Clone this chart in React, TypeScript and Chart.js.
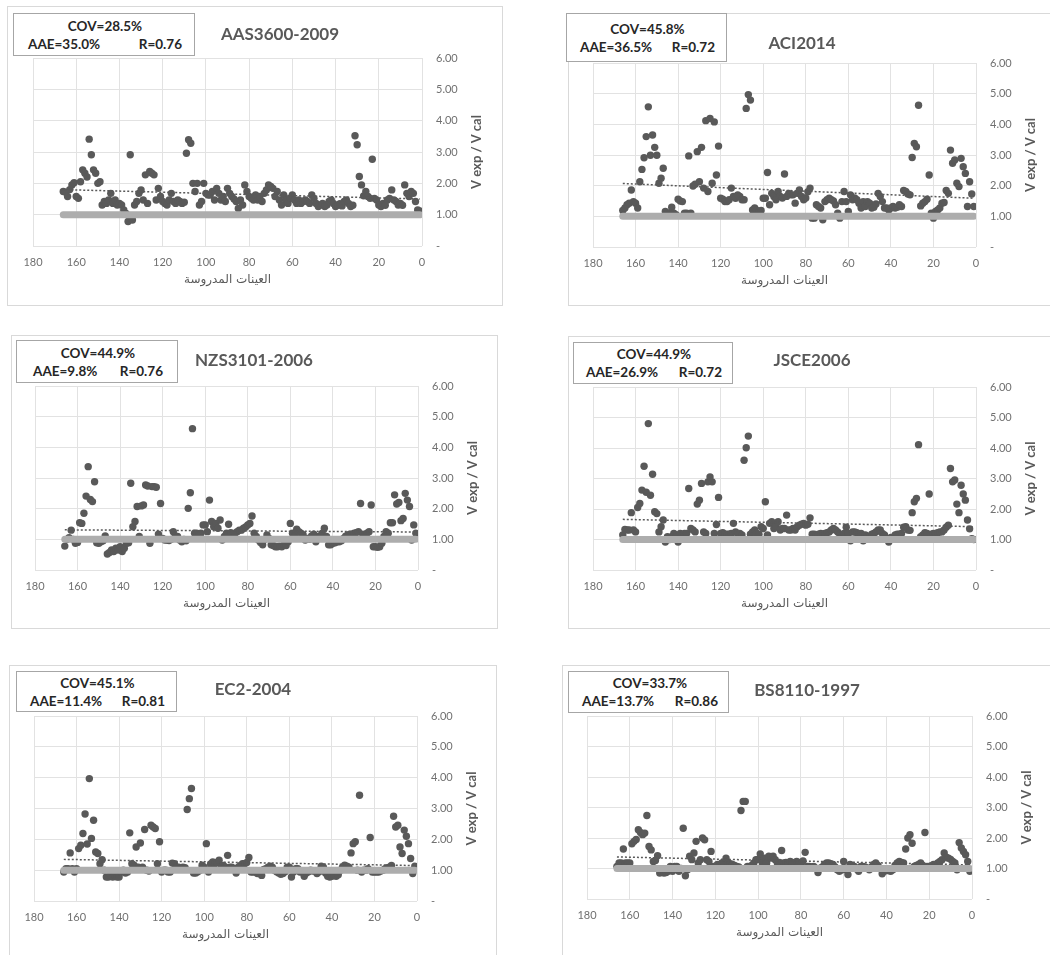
import React, { useEffect, useRef } from "react";
import { Chart, registerables } from "chart.js";

Chart.register(...registerables);
Chart.defaults.font.family = 'Lato, "DejaVu Sans", sans-serif';

// Values read from left (sample 166) to right (sample 1)
const aasValues = [
  1.74, 1.72, 1.58, 1.80, 1.95, 2.02, 1.58, 1.52, 2.05, 2.43,
  2.32, 2.20, 3.41, 2.91, 2.43, 2.32, 2.00, 2.05, 1.31, 1.42,
  1.36, 1.47, 1.68, 1.36, 1.47, 1.31, 1.36, 1.31, 1.15, 1.04,
  0.78, 2.91, 0.83, 1.31, 1.42, 1.68, 1.79, 1.47, 2.27, 1.36,
  2.38, 2.32, 2.27, 1.47, 1.84, 1.58, 1.42, 1.36, 1.31, 1.47,
  1.68, 1.42, 1.36, 1.47, 1.42, 1.36, 1.40, 2.96, 3.39, 3.28,
  2.00, 1.74, 2.00, 1.31, 1.42, 2.00, 1.68, 1.63, 1.63, 1.74,
  1.47, 1.84, 1.68, 1.47, 1.58, 1.42, 1.84, 1.68, 1.58, 1.50,
  1.42, 1.20, 1.47, 1.31, 1.95, 1.74, 1.58, 1.52, 1.47, 1.63,
  1.47, 1.58, 1.42, 1.68, 1.79, 1.95, 1.90, 1.84, 1.58, 1.74,
  1.47, 1.31, 1.63, 1.47, 1.36, 1.52, 1.63, 1.47, 1.36, 1.47,
  1.36, 1.42, 1.47, 1.42, 1.36, 1.63, 1.52, 1.36, 1.26, 1.31,
  1.36, 1.26, 1.31, 1.42, 1.47, 1.36, 1.26, 1.30, 1.35, 1.28,
  1.42, 1.47, 1.36, 1.26, 1.30, 3.52, 3.23, 2.22, 1.95, 1.60,
  1.74, 1.58, 1.52, 2.77, 1.52, 1.47, 1.31, 1.26, 1.36, 1.30,
  1.47, 1.52, 1.79, 1.47, 1.42, 1.31, 1.36, 1.30, 1.95, 1.68,
  1.58, 1.74, 1.68, 1.42, 1.15, 1.12,
];

const aciValues = [
  1.19, 1.27, 1.38, 1.43, 1.86, 1.48, 1.43, 1.27, 2.13, 2.53,
  2.91, 3.60, 4.57, 2.99, 3.65, 3.25, 2.99, 2.08, 2.24, 2.57,
  1.16, 1.10, 1.10, 1.30, 1.10, 1.05, 1.56, 1.50, 1.48, 1.10,
  1.10, 2.97, 1.10, 1.99, 2.05, 3.11, 2.13, 3.25, 1.92, 4.12,
  1.81, 4.19, 2.08, 4.08, 2.35, 3.29, 1.59, 1.56, 1.48, 1.48,
  1.54, 1.92, 1.65, 1.59, 1.70, 1.65, 1.54, 1.54, 4.52, 4.97,
  4.79, 1.21, 1.27, 1.19, 1.15, 1.19, 1.59, 1.59, 2.43, 1.38,
  1.75, 1.65, 1.54, 1.81, 1.65, 1.60, 2.38, 1.65, 1.75, 1.70,
  1.70, 1.43, 1.75, 1.86, 1.65, 1.54, 1.60, 1.80, 1.92, 0.94,
  0.94, 1.38, 1.32, 1.27, 0.89, 1.48, 1.54, 1.59, 1.54, 1.50,
  1.38, 1.10, 0.94, 1.48, 1.81, 1.48, 1.16, 1.70, 1.54, 1.60,
  1.54, 1.43, 1.27, 1.48, 1.32, 1.48, 1.43, 1.27, 1.30, 1.40,
  1.75, 1.65, 1.48, 1.27, 1.27, 1.21, 1.27, 1.32, 1.27, 1.30,
  1.38, 1.32, 1.84, 1.81, 1.73, 1.70, 2.92, 3.38, 3.27, 4.62,
  1.34, 1.43, 1.48, 1.56, 2.35, 1.10, 0.94, 1.16, 1.21, 1.27,
  1.43, 1.45, 1.84, 1.75, 3.16, 2.73, 2.84, 2.08, 1.97, 2.89,
  2.62, 2.40, 1.32, 2.13, 1.73, 1.32,
];

const nzsValues = [
  0.78, 1.00, 1.05, 1.30, 1.00, 0.87, 0.90, 1.54, 1.52, 1.85,
  2.41, 3.37, 2.30, 2.23, 2.88, 0.89, 0.87, 0.92, 0.95, 1.11,
  0.52, 0.57, 0.65, 0.60, 0.71, 0.65, 0.76, 0.60, 0.71, 0.87,
  0.89, 2.83, 1.41, 1.58, 2.07, 1.09, 2.09, 2.12, 2.77, 2.74,
  0.87, 2.72, 2.72, 2.70, 1.17, 2.17, 1.03, 0.98, 0.98, 0.96,
  1.00, 1.25, 1.11, 1.09, 0.98, 0.92, 1.00, 0.95, 2.01, 2.52,
  4.61, 1.20, 1.20, 1.17, 1.20, 1.47, 1.47, 1.25, 2.28, 1.58,
  1.41, 1.52, 1.36, 1.63, 0.98, 1.09, 1.20, 1.49, 1.22, 1.17,
  1.20, 1.25, 1.30, 1.30, 1.36, 1.40, 1.47, 1.52, 1.76, 1.20,
  1.09, 0.98, 0.90, 0.82, 1.00, 1.14, 1.03, 0.82, 0.80, 0.76,
  0.76, 0.78, 0.76, 0.82, 0.80, 0.92, 1.52, 1.20, 1.10, 1.33,
  1.25, 1.20, 1.15, 0.98, 1.03, 1.00, 1.11, 1.17, 0.92, 1.09,
  1.11, 1.20, 1.36, 1.09, 0.82, 0.82, 0.87, 0.89, 0.92, 0.92,
  0.95, 1.03, 1.10, 1.14, 1.17, 1.17, 1.20, 1.22, 1.25, 2.17,
  1.17, 1.11, 1.20, 1.25, 2.12, 0.76, 0.76, 0.74, 0.76, 0.87,
  1.09, 1.25, 1.20, 1.54, 1.54, 2.45, 2.15, 2.20, 1.61, 1.68,
  2.50, 2.28, 2.07, 0.98, 1.47, 1.20,
];

const jsceValues = [
  1.15, 1.33, 1.31, 1.31, 1.88, 1.31, 1.25, 2.05, 2.18, 2.62,
  3.40, 2.55, 4.80, 2.45, 3.14, 1.91, 1.85, 1.25, 1.42, 1.64,
  0.92, 1.09, 1.00, 1.09, 1.20, 1.09, 0.92, 1.20, 1.15, 1.20,
  1.20, 2.67, 1.36, 1.31, 1.25, 2.16, 2.29, 2.84, 1.25, 1.20,
  2.89, 3.05, 2.89, 1.20, 1.49, 2.38, 1.20, 1.22, 1.17, 1.17,
  1.17, 1.20, 1.53, 1.25, 1.20, 1.20, 1.15, 3.60, 4.01, 4.39,
  1.17, 1.25, 1.31, 1.20, 1.17, 1.42, 1.36, 2.24, 1.15, 1.53,
  1.58, 1.36, 1.45, 1.58, 1.31, 1.36, 1.36, 1.80, 1.31, 1.31,
  1.36, 1.31, 1.42, 1.47, 1.50, 1.53, 1.47, 1.50, 1.71, 1.17,
  1.17, 1.15, 1.17, 1.20, 1.17, 1.20, 1.22, 1.25, 1.31, 1.36,
  1.31, 1.25, 1.17, 1.15, 1.20, 1.40, 1.20, 0.96, 1.25, 1.25,
  1.22, 1.17, 1.20, 0.96, 1.15, 1.10, 1.09, 1.17, 1.20, 1.25,
  1.31, 1.31, 1.20, 1.15, 1.00, 0.92, 1.07, 1.07, 1.15, 1.17,
  1.17, 1.20, 1.40, 1.42, 1.31, 1.30, 1.88, 2.24, 2.35, 4.11,
  1.09, 1.15, 1.22, 1.20, 2.49, 1.17, 1.20, 1.20, 1.22, 1.25,
  1.25, 1.31, 1.40, 1.47, 3.33, 2.89, 2.95, 2.16, 1.88, 2.78,
  2.49, 2.29, 1.64, 1.35, 1.03, 1.00,
];

const ec2Values = [
  0.94, 1.05, 1.05, 1.56, 1.05, 0.94, 1.05, 1.70, 1.81, 2.19,
  2.82, 1.85, 3.97, 2.03, 2.62, 1.59, 1.54, 1.21, 1.34, 1.00,
  0.78, 0.78, 0.83, 0.78, 0.83, 0.78, 0.78, 0.94, 1.00, 0.91,
  0.94, 2.21, 1.21, 1.16, 1.75, 1.10, 1.88, 1.10, 2.32, 1.00,
  0.97, 2.46, 2.40, 2.35, 1.21, 1.92, 0.94, 1.00, 1.00, 0.94,
  0.94, 1.23, 1.21, 1.10, 1.10, 1.05, 1.10, 1.08, 2.97, 3.32,
  3.65, 0.91, 0.91, 0.95, 1.00, 1.16, 1.10, 1.86, 0.94, 1.20,
  1.27, 1.21, 1.25, 1.32, 1.10, 1.15, 1.10, 1.48, 1.10, 1.10,
  1.05, 0.91, 1.10, 1.15, 1.21, 1.21, 1.25, 1.41, 0.94, 0.94,
  0.94, 0.89, 0.89, 0.83, 1.02, 1.05, 1.10, 1.13, 1.10, 1.00,
  0.95, 0.91, 0.87, 0.89, 0.95, 1.10, 1.10, 0.78, 0.94, 1.05,
  1.05, 0.94, 0.94, 0.80, 0.91, 0.95, 1.00, 0.97, 0.97, 0.89,
  0.95, 1.13, 1.10, 0.91, 0.80, 0.78, 0.80, 0.83, 0.80, 0.85,
  1.00, 1.10, 1.16, 1.13, 1.10, 1.56, 1.86, 1.92, 1.00, 3.43,
  0.94, 1.00, 1.00, 1.05, 2.06, 0.94, 0.94, 0.94, 0.94, 0.97,
  1.00, 1.05, 1.08, 1.10, 1.15, 2.75, 2.40, 2.46, 1.75, 1.54,
  2.30, 2.10, 1.86, 1.38, 0.89, 1.13,
];

const bsValues = [
  1.07, 1.18, 1.18, 1.64, 1.18, 1.18, 1.18, 1.81, 1.89, 1.95,
  2.27, 2.18, 2.11, 2.16, 2.74, 1.72, 1.61, 1.23, 1.26, 1.42,
  0.85, 0.91, 0.85, 0.87, 0.91, 1.07, 0.91, 1.07, 1.07, 0.91,
  1.00, 2.32, 0.76, 0.96, 1.40, 1.29, 1.51, 1.89, 1.18, 1.29,
  2.00, 1.94, 1.29, 1.23, 1.56, 1.07, 1.07, 1.13, 1.07, 1.18,
  1.10, 1.34, 1.18, 1.16, 1.13, 1.10, 1.07, 1.05, 2.90, 3.20,
  3.20, 1.07, 1.07, 1.10, 1.18, 1.29, 1.30, 1.48, 1.18, 1.34,
  1.18, 1.40, 1.34, 1.40, 1.29, 1.18, 1.20, 1.59, 1.18, 1.20,
  1.18, 1.23, 1.20, 1.18, 1.23, 1.20, 1.18, 1.25, 1.53, 1.07,
  1.07, 1.05, 1.07, 1.01, 0.87, 1.01, 1.05, 1.13, 1.18, 1.18,
  1.16, 1.13, 1.05, 0.96, 0.91, 0.95, 1.23, 0.96, 0.80, 1.13,
  1.10, 1.07, 0.98, 0.91, 1.07, 1.07, 1.05, 1.01, 0.96, 1.05,
  1.13, 1.18, 1.10, 1.01, 0.83, 0.91, 0.96, 0.93, 0.91, 0.96,
  1.10, 1.18, 1.23, 1.20, 1.18, 1.64, 2.00, 2.11, 1.83, 1.07,
  1.10, 1.13, 1.18, 1.10, 2.18, 1.07, 1.07, 1.09, 1.13, 1.13,
  1.18, 1.23, 1.29, 1.51, 1.37, 1.34, 1.30, 1.23, 1.18, 0.96,
  1.85, 1.67, 1.56, 1.45, 1.23, 0.91,
];

// Linear trend line values at first and last sample
const aasTrend = [1.8, 1.5];
const aciTrend = [2.07, 1.59];
const nzsTrend = [1.31, 1.24];
const jsceTrend = [1.66, 1.42];
const ec2Trend = [1.35, 1.15];
const bsTrend = [1.38, 1.12];

const panelTitles = ["AAS3600-2009", "ACI2014", "NZS3101-2006", "JSCE2006", "EC2-2004", "BS8110-1997"];
const covLabels = ["COV=28.5%", "COV=45.8%", "COV=44.9%", "COV=44.9%", "COV=45.1%", "COV=33.7%"];
const aaeLabels = ["AAE=35.0%", "AAE=36.5%", "AAE=9.8%", "AAE=26.9%", "AAE=11.4%", "AAE=13.7%"];
const rLabels = ["R=0.76", "R=0.72", "R=0.76", "R=0.72", "R=0.81", "R=0.86"];
const referenceRatio = 1;
const xAxisTitle = "العينات المدروسة";
const yAxisTitle = "V exp / V cal";

const seriesList = [aasValues, aciValues, nzsValues, jsceValues, ec2Values, bsValues];
const trendList = [aasTrend, aciTrend, nzsTrend, jsceTrend, ec2Trend, bsTrend];

// Page layout of each panel (pixel positions)
const layouts = [
  { box: [7, 6, 496, 300], area: [33, 58, 422, 246], stats: [13, 13, 182, 43], title: [280, 33], pad: [14, 12] },
  { box: [568, 13, 500, 293], area: [593, 63, 976, 247], stats: [566, 13, 161, 49], title: [802, 42], pad: [13, 11] },
  { box: [11, 335, 487, 294], area: [35, 386, 418, 570], stats: [16, 340, 162, 43], title: [254, 359], pad: [16, 14] },
  { box: [568, 336, 500, 293], area: [593, 387, 976, 570], stats: [573, 342, 160, 42], title: [812, 359], pad: [12, 10] },
  { box: [9, 665, 488, 300], area: [34, 716, 417, 901], stats: [16, 671, 161, 41], title: [253, 688], pad: [13, 11] },
  { box: [562, 665, 500, 300], area: [587, 716, 972, 899], stats: [568, 671, 161, 42], title: [807, 689], pad: [13, 10] },
];

const PAGE_W = 1050;
const PAGE_H = 955;
const GRID = "#E2E2E2";
const TICK = "#707070";
const DARK = "#595959";

const yTitlePlugin = {
  id: "yTitleLeftReading",
  afterDraw(chart: any) {
    const { ctx, chartArea } = chart;
    ctx.save();
    ctx.translate(chartArea.right + 55, (chartArea.top + chartArea.bottom) / 2);
    ctx.rotate(-Math.PI / 2);
    ctx.font = 'bold 13px Lato, "DejaVu Sans", sans-serif';
    ctx.fillStyle = DARK;
    ctx.textAlign = "center";
    ctx.textBaseline = "middle";
    ctx.fillText(yAxisTitle, 0, 0);
    ctx.restore();
  },
};

function Panel({ idx }: { idx: number }) {
  const ref = useRef<HTMLCanvasElement | null>(null);
  const L = layouts[idx];
  const [bx, by, bw, bh] = L.box;
  const cw = Math.min(bw, PAGE_W - bx);
  const ch = Math.min(bh, PAGE_H - by);

  useEffect(() => {
    if (!ref.current) return;
    const values = seriesList[idx];
    const trend = trendList[idx];
    const n = values.length;
    const [ax1, ay1, ax2, ay2] = L.area;
    const padL = ax1 - bx;
    const padT = ay1 - by;
    const yAxisW = cw - (ax2 - bx);
    const xAxisH = ch - (ay2 - by);
    const titleLH = 12 * 1.2;
    const titlePadBottom = Math.max(0, xAxisH - 34 - titleLH / 2);

    const chart = new Chart(ref.current, {
      type: "scatter",
      data: {
        datasets: [
          {
            label: "ref",
            data: [
              { x: n, y: referenceRatio },
              { x: 1, y: referenceRatio },
            ],
            showLine: true,
            borderColor: "#ADADAD",
            backgroundColor: "#ADADAD",
            borderWidth: 7,
            borderCapStyle: "round",
            pointRadius: 0,
            order: 0,
          },
          {
            label: "trend",
            data: [
              { x: n, y: trend[0] },
              { x: 1, y: trend[1] },
            ],
            showLine: true,
            borderColor: DARK,
            borderWidth: 1.5,
            borderDash: [2, 2],
            pointRadius: 0,
            order: 1,
          },
          {
            label: "ratio",
            data: values.map((v, i) => ({ x: n - i, y: v })),
            backgroundColor: DARK,
            borderWidth: 0,
            pointRadius: 3.7,
            order: 2,
          },
        ],
      } as any,
      options: {
        responsive: false,
        animation: false,
        events: [],
        layout: { padding: { left: padL, top: padT, right: 0, bottom: 0 } },
        plugins: { legend: { display: false }, tooltip: { enabled: false } },
        scales: {
          x: {
            type: "linear",
            min: 0,
            max: 180,
            reverse: true,
            ticks: { stepSize: 20, color: TICK, font: { size: 11 }, padding: 10, maxRotation: 0, autoSkip: false },
            grid: { color: GRID, drawTicks: false },
            border: { display: false },
            title: {
              display: true,
              text: xAxisTitle,
              color: DARK,
              font: { size: 12, family: '"DejaVu Sans", sans-serif' },
              padding: { top: 0, bottom: titlePadBottom },
            },
            afterFit: (s: any) => {
              s.height = xAxisH;
            },
          },
          y: {
            type: "linear",
            position: "right",
            min: 0,
            max: 6,
            ticks: {
              stepSize: 1,
              color: TICK,
              font: { size: 11 },
              padding: 14,
              callback: (v: any) => (Number(v) === 0 ? "-" : Number(v).toFixed(2)),
            },
            grid: { color: GRID, drawTicks: false },
            border: { display: false },
            afterFit: (s: any) => {
              s.width = yAxisW;
            },
          },
        },
      } as any,
      plugins: [yTitlePlugin],
    });
    return () => chart.destroy();
  }, [idx]);

  const [sx, sy, sw, sh] = L.stats;
  const [tx, ty] = L.title;
  return (
    <>
      <div
        style={{
          position: "absolute",
          left: bx,
          top: by,
          width: bw,
          height: bh,
          border: "1px solid #D9D9D9",
          boxSizing: "border-box",
          background: "#fff",
        }}
      />
      <canvas
        ref={ref}
        width={cw}
        height={ch}
        style={{ position: "absolute", left: bx, top: by, width: cw, height: ch }}
      />
      <div
        style={{
          position: "absolute",
          left: sx,
          top: sy,
          width: sw,
          height: sh,
          boxSizing: "border-box",
          border: "1px solid #A6A6A6",
          background: "#fff",
          display: "flex",
          flexDirection: "column",
          justifyContent: "center",
          font: 'bold 13.5px Lato, "DejaVu Sans", sans-serif',
          color: "#262626",
          lineHeight: "18px",
          paddingLeft: L.pad[0],
          paddingRight: L.pad[1],
        }}
      >
        <div style={{ textAlign: "center" }}>{covLabels[idx]}</div>
        <div style={{ display: "flex", justifyContent: "space-between" }}>
          <span>{aaeLabels[idx]}</span>
          <span>{rLabels[idx]}</span>
        </div>
      </div>
      <div
        style={{
          position: "absolute",
          left: tx,
          top: ty,
          transform: "translate(-50%, -50%)",
          whiteSpace: "nowrap",
          font: 'bold 17px Lato, "DejaVu Sans", sans-serif',
          color: DARK,
        }}
      >
        {panelTitles[idx]}
      </div>
    </>
  );
}

export default function App() {
  return (
    <div
      style={{
        position: "absolute",
        left: 0,
        top: 0,
        width: PAGE_W,
        height: PAGE_H,
        overflow: "hidden",
        background: "#fff",
      }}
    >
      {layouts.map((_, i) => (
        <Panel key={i} idx={i} />
      ))}
    </div>
  );
}
